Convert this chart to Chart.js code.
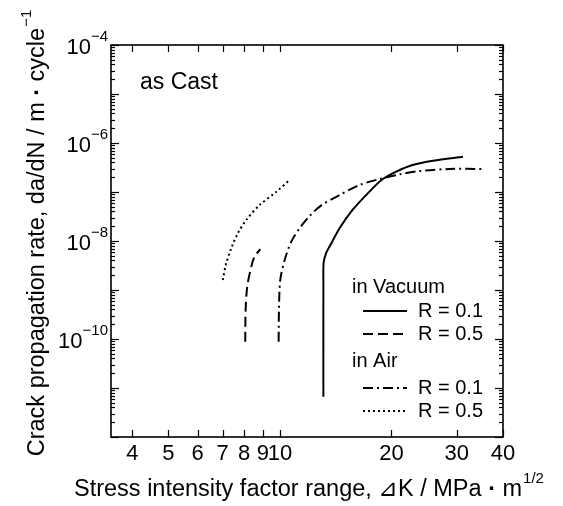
<!DOCTYPE html>
<html><head><meta charset="utf-8">
<script src="https://cdn.jsdelivr.net/npm/chart.js@4/dist/chart.umd.min.js"></script>
<style>html,body{margin:0;padding:0;background:#fff}#wrap{width:563px;height:506px}</style>
</head><body><div id="wrap"><canvas id="c" width="563" height="506"></canvas></div>
<script>
// ---- data ----
const vacR01X = [13.1, 13.1, 13.12, 13.33, 13.6, 14.5, 15.7, 17.1, 18.8, 20.6, 22.8, 25.9, 31.2];
const vacR01Y = [6.6e-12, 1.5e-9, 3.6e-9, 5.7e-9, 7.6e-9, 1.84e-8, 4.3e-8, 8.7e-8, 1.76e-7, 2.6e-7, 3.55e-7, 4.35e-7, 5.25e-7];
const vacR05X = [8.06, 8.08, 8.16, 8.37, 8.54, 8.85];
const vacR05Y = [8.8e-11, 3.9e-10, 1.17e-9, 3.0e-9, 4.8e-9, 6.8e-9];
const airR01X = [9.92, 9.94, 10.02, 10.3, 10.73, 11.3, 12.03, 12.96, 14.5, 16.4, 18.6, 21.1, 23.9, 28.7, 35.7];
const airR01Y = [8.8e-11, 3.9e-10, 1.6e-9, 4.1e-9, 9.7e-9, 1.82e-8, 3.24e-8, 5.4e-8, 8.7e-8, 1.39e-7, 1.84e-7, 2.3e-7, 2.68e-7, 2.95e-7, 2.95e-7];
const airR05X = [7.01, 7.16, 7.39, 7.70, 8.11, 8.81, 9.78, 10.62];
const airR05Y = [1.6e-9, 3.5e-9, 7.1e-9, 1.44e-8, 2.68e-8, 5.4e-8, 1.01e-7, 1.76e-7];

const xTickValues = [4, 5, 6, 7, 8, 9, 10, 20, 30, 40];
const xTickLabels = ['4', '5', '6', '7', '8', '9', '10', '20', '30', '40'];
const yLabelExps = [-4, -6, -8, -10];
const xMin = 3.5, xMax = 40, yMinExp = -12, yMaxExp = -4;

const seriesNames = ['R = 0.1', 'R = 0.5', 'R = 0.1', 'R = 0.5'];
const groupNames = ['in Vacuum', 'in Air'];
const annotationText = 'as Cast';

const FONT = '"Liberation Sans", Arial, "DejaVu Sans", sans-serif';

function pts(xs, ys) { return xs.map((x, i) => ({ x: x, y: ys[i] })); }

const dashes = [[], [10, 5], [10, 4, 2, 4], [2, 3]];
const datasets = [
  { label: seriesNames[0], data: pts(vacR01X, vacR01Y) },
  { label: seriesNames[1], data: pts(vacR05X, vacR05Y) },
  { label: seriesNames[2], data: pts(airR01X, airR01Y) },
  { label: seriesNames[3], data: pts(airR05X, airR05Y) }
].map((d, i) => Object.assign(d, {
  showLine: true, borderColor: '#000', borderWidth: 2, pointRadius: 0,
  borderDash: dashes[i], tension: 0.3, fill: false
}));

function line(ctx, x1, y1, x2, y2) { ctx.beginPath(); ctx.moveTo(x1, y1); ctx.lineTo(x2, y2); ctx.stroke(); }

// draws a run of text parts [{t, f, dy}] starting at x (left aligned)
function rich(ctx, parts, x, y, measureOnly) {
  let cx = x;
  parts.forEach(p => {
    ctx.font = p.f;
    if (!measureOnly) ctx.fillText(p.t, cx, y + (p.dy || 0));
    cx += ctx.measureText(p.t).width + (p.gap || 0);
  });
  return cx - x;
}

const decor = {
  id: 'decor',
  afterDraw(chart) {
    const ctx = chart.ctx, a = chart.chartArea, xs = chart.scales.x, ys = chart.scales.y;
    ctx.save();
    ctx.strokeStyle = '#000'; ctx.fillStyle = '#000';
    ctx.lineWidth = 1.6;
    ctx.strokeRect(a.left, a.top, a.right - a.left, a.bottom - a.top);
    ctx.lineWidth = 1.2;
    // x ticks (inward, bottom and top)
    xTickValues.forEach(v => {
      const px = Math.round(xs.getPixelForValue(v)) + 0.5;
      line(ctx, px, a.bottom, px, a.bottom - 7);
      line(ctx, px, a.top, px, a.top + 7);
    });
    // y ticks (log minor)
    for (let e = yMinExp; e <= yMaxExp; e++) {
      for (let m = 1; m < 10; m++) {
        if (e === yMaxExp && m > 1) break;
        const py = Math.round(ys.getPixelForValue(m * Math.pow(10, e))) + 0.5;
        const len = m === 1 ? 8 : 4;
        line(ctx, a.left, py, a.left + len, py);
        line(ctx, a.right, py, a.right - len, py);
      }
    }
    // x tick labels
    ctx.font = '22px ' + FONT;
    ctx.textAlign = 'center'; ctx.textBaseline = 'middle';
    xTickValues.forEach((v, i) => {
      ctx.fillText(xTickLabels[i], xs.getPixelForValue(v), a.bottom + 17);
    });
    // y tick labels 10^n
    yLabelExps.forEach(e => {
      const py = ys.getPixelForValue(Math.pow(10, e));
      const sup = '\u2212' + Math.abs(e);
      ctx.font = '15px ' + FONT;
      const sw = ctx.measureText(sup).width;
      ctx.textAlign = 'right';
      ctx.fillText(sup, a.left - 3, py - 8);
      ctx.font = '22px ' + FONT;
      ctx.fillText('10', a.left - 3 - sw, py + 3);
    });
    // annotation
    ctx.font = '23px ' + FONT; ctx.textAlign = 'left';
    ctx.fillText(annotationText, 140, 83);
    // legend
    ctx.font = '20px ' + FONT;
    const rows = [287, 311, 334, 361, 388, 411];
    ctx.fillText(groupNames[0], 352, rows[0]);
    ctx.fillText(groupNames[1], 352, rows[3]);
    const sr = [rows[1], rows[2], rows[4], rows[5]];
    datasets.forEach((d, i) => {
      ctx.save(); ctx.lineWidth = 2; ctx.setLineDash(dashes[i]);
      line(ctx, 363, sr[i], 407, sr[i]);
      ctx.restore();
      ctx.font = '20px ' + FONT;
      ctx.fillText(d.label, 418, sr[i]);
    });
    const main = '23.5px ' + FONT, bold = 'bold 23.5px ' + FONT, small = '15px ' + FONT;
    // x title
    const xParts = [
      { t: 'Stress intensity factor range, \u22BFK / MPa ', f: main },
      { t: '\u00B7', f: bold },
      { t: ' m', f: main, gap: 1 },
      { t: '1/2', f: small, dy: -11 }
    ];
    ctx.textAlign = 'left';
    rich(ctx, xParts, 74, 490);
    // y title
    const yParts = [
      { t: 'Crack propagation rate, da/dN / m ', f: main },
      { t: '\u00B7', f: bold },
      { t: ' cycle', f: main, gap: 1 },
      { t: '\u22121', f: small, dy: -11 }
    ];
    ctx.save();
    ctx.translate(38, 233); ctx.rotate(-Math.PI / 2);
    const yw = rich(ctx, yParts, 0, 0, true);
    rich(ctx, yParts, -yw / 2, 0);
    ctx.restore();
    ctx.restore();
  }
};

new Chart(document.getElementById('c'), {
  type: 'scatter',
  data: { datasets: datasets },
  options: {
    responsive: false, animation: false,
    layout: { padding: { left: 111, right: 60, top: 45, bottom: 69 } },
    plugins: { legend: { display: false }, tooltip: { enabled: false } },
    scales: {
      x: { type: 'logarithmic', min: xMin, max: xMax, display: false },
      y: { type: 'logarithmic', min: Math.pow(10, yMinExp), max: Math.pow(10, yMaxExp), display: false }
    }
  },
  plugins: [decor]
});
</script></body></html>
